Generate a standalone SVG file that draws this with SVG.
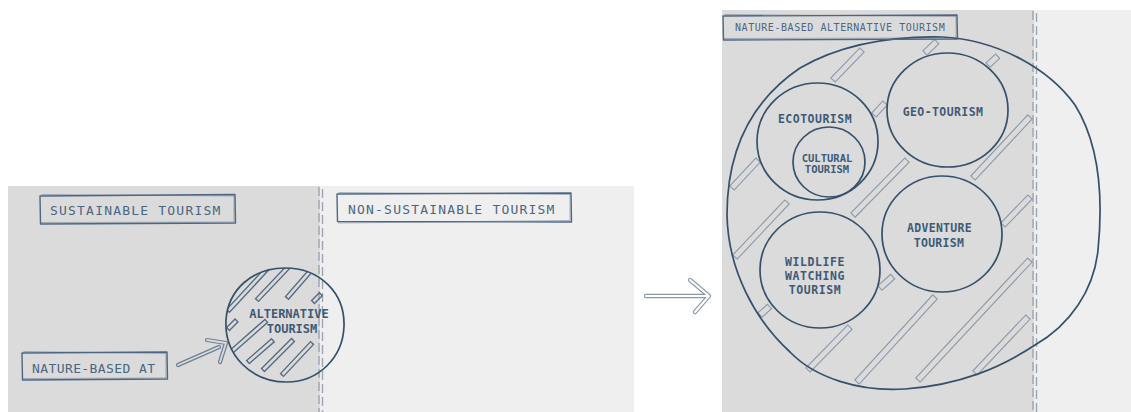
<svg xmlns="http://www.w3.org/2000/svg" width="1131" height="412" viewBox="0 0 1131 412">
  <defs>
    <style>
      .bg-dark { fill: #dbdbdb; }
      .bg-light { fill: #efefef; }
      .divider { stroke: #9da6b0; stroke-width: 1.4; stroke-dasharray: 9 4; fill: none; }
      .box { fill: none; stroke: #4d6782; stroke-width: 1.4; stroke-linejoin: round; }
      .box2 { fill: none; stroke: #4d6782; stroke-width: 0.8; opacity: 0.55; }
      .ring { fill: none; stroke: #34506b; stroke-width: 1.7; }
      .label { font-family: "DejaVu Sans Mono", "Liberation Mono", monospace; fill: #4c6680; }
      .bold { font-family: "DejaVu Sans Mono", "Liberation Mono", monospace; font-weight: bold; fill: #3e5a76; text-anchor: middle; }
      .strip { fill: none; stroke: #8b99a9; stroke-width: 1.1; }
      .hatch { fill: none; stroke: #566b84; stroke-width: 1.4; }
    </style>
    <clipPath id="alt-clip">
      <path d="M226,320 C228,290 252,268 285,268 C320,268 345,293 344,326 C343,358 318,382 287,382 C252,382 224,356 226,320 Z"/>
    </clipPath>
  </defs>

  <!-- panel backgrounds -->
  <rect class="bg-dark" x="8" y="186" width="312" height="226"/>
  <rect class="bg-light" x="320" y="186" width="314" height="226"/>
  <rect class="bg-dark" x="722" y="10" width="312" height="402"/>
  <rect class="bg-light" x="1034" y="10" width="97" height="402"/>

  <!-- dashed dividers -->
  <g id="dividers">
    <line class="divider" x1="319" y1="187" x2="319" y2="412"/>
    <line class="divider" x1="322.5" y1="189" x2="322.5" y2="412"/>
    <line class="divider" x1="1033" y1="11" x2="1033" y2="412"/>
    <line class="divider" x1="1036.5" y1="13" x2="1036.5" y2="412"/>
  </g>

  <!-- left scene -->
  <g id="sustainable">
    <path class="box" d="M40,196 L235,194.5 L235.5,223 L40.5,224 Z"/>
    <path class="box2" d="M41.5,194.5 L234,196 L234,222 L41,222.5"/>
    <text class="label" x="50" y="215" font-size="13" letter-spacing="1.2">SUSTAINABLE TOURISM</text>
  </g>

  <g id="non-sustainable">
    <path class="box" d="M337,194 L571,193 L571.5,222 L337.5,221.5 Z"/>
    <path class="box2" d="M338.5,192.5 L570,194.5 L570,220.5 L338,223"/>
    <text class="label" x="348" y="214" font-size="13" letter-spacing="1.2">NON-SUSTAINABLE TOURISM</text>
  </g>

  <g id="alternative">
    <g clip-path="url(#alt-clip)">
      <rect class="hatch" x="0" y="-2" width="60" height="4" transform="translate(228,311) rotate(-47.2)"/>
      <rect class="hatch" x="0" y="-2" width="56" height="4" transform="translate(257,300) rotate(-46.5)"/>
      <rect class="hatch" x="0" y="-2" width="42" height="4" transform="translate(287,298) rotate(-49)"/>
      <rect class="hatch" x="0" y="-2" width="11" height="4" transform="translate(313,302) rotate(-45)"/>
      <rect class="hatch" x="0" y="-2" width="12" height="4" transform="translate(228,329) rotate(-45)"/>
      <rect class="hatch" x="0" y="-2" width="47" height="4" transform="translate(231,352) rotate(-41.4)"/>
      <rect class="hatch" x="0" y="-2" width="33" height="4" transform="translate(248,362) rotate(-41)"/>
      <rect class="hatch" x="0" y="-2" width="42.4" height="4" transform="translate(263,370) rotate(-45)"/>
      <rect class="hatch" x="0" y="-2" width="43.9" height="4" transform="translate(282,375) rotate(-46.8)"/>
    </g>
    <path class="ring" d="M226,320 C228,290 252,268 285,268 C320,268 345,293 344,326 C343,358 318,382 287,382 C252,382 224,356 226,320 Z"/>
    <text class="bold" x="289" y="318" font-size="12">ALTERNATIVE</text>
    <text class="bold" x="292" y="333" font-size="12">TOURISM</text>
  </g>

  <g id="nature-based-at">
    <path class="box" d="M22,353 L167,352 L167.5,379 L22.5,380 Z"/>
    <path class="box2" d="M23.5,351.5 L166,353.5 L166,378 L23,378.5"/>
    <text class="label" x="32" y="373" font-size="13" letter-spacing="0.4">NATURE-BASED AT</text>
  </g>

  <!-- connectors -->
  <g id="connectors" fill="none" stroke-linecap="round" stroke-linejoin="round">
    <g id="arrow-to-alternative">
      <path d="M178,365 L219,347 M207,340 L226,343 L220,362" stroke="#6c8096" stroke-width="4.2"/>
      <path d="M178,365 L219,347 M207,340 L226,343 L220,362" stroke="#dbdbdb" stroke-width="1.8"/>
    </g>
    <g id="arrow-to-detail">
      <path d="M646,296 L707,296 M690,280 L709,296 L695,312" stroke="#8b99a9" stroke-width="4.4"/>
      <path d="M646,296 L707,296 M690,280 L709,296 L695,312" stroke="#ffffff" stroke-width="2.2"/>
    </g>
  </g>

  <!-- right scene -->
  <g id="nature-based-alternative">
    <g id="strips">
      <rect class="strip" x="0" y="-3" width="41.7" height="6" transform="translate(833,80) rotate(-46)"/>
      <rect class="strip" x="0" y="-3" width="16.3" height="6" transform="translate(925,53) rotate(-44)"/>
      <rect class="strip" x="0" y="-3" width="13" height="6" transform="translate(988,65) rotate(-42)"/>
      <rect class="strip" x="0" y="-3" width="16.3" height="6" transform="translate(874,115) rotate(-47.5)"/>
      <rect class="strip" x="0" y="-3" width="38.2" height="6" transform="translate(732,188) rotate(-47)"/>
      <rect class="strip" x="0" y="-3" width="83.5" height="6" transform="translate(973,178) rotate(-47)"/>
      <rect class="strip" x="0" y="-3" width="77" height="6" transform="translate(853,215) rotate(-45.5)"/>
      <rect class="strip" x="0" y="-3" width="38.9" height="6" transform="translate(1003,225) rotate(-46)"/>
      <rect class="strip" x="0" y="-3" width="75.7" height="6" transform="translate(735,257) rotate(-46.6)"/>
      <rect class="strip" x="0" y="-3" width="17" height="6" transform="translate(880,288) rotate(-42)"/>
      <rect class="strip" x="0" y="-3" width="12.8" height="6" transform="translate(760,315) rotate(-42)"/>
      <rect class="strip" x="0" y="-3" width="60" height="6" transform="translate(808,370) rotate(-45.7)"/>
      <rect class="strip" x="0" y="-3" width="115.4" height="6" transform="translate(857,382) rotate(-47.5)"/>
      <rect class="strip" x="0" y="-3" width="164" height="6" transform="translate(918,380) rotate(-47)"/>
      <rect class="strip" x="0" y="-3" width="77" height="6" transform="translate(975,373) rotate(-46.6)"/>
    </g>
    <path class="ring" d="M727,215 C727,140 760,95 800,68 C840,45 890,36 942,37 C1000,40 1050,70 1075,105 C1100,145 1103,200 1098,250 C1094,290 1070,325 1035,345 C1000,368 960,385 905,389 C860,392 815,378 790,352 C755,320 728,270 727,215 Z"/>
    <path class="box" d="M723,16 L957,15 L957.5,39 L723.5,40 Z"/>
    <path class="box2" d="M724.5,14.5 L956,16.5 L956,38 L724,38.5"/>
    <text class="label" x="735" y="31" font-size="10" letter-spacing="0.55">NATURE-BASED ALTERNATIVE TOURISM</text>
  </g>

  <g id="ecotourism">
    <ellipse class="ring" cx="817.5" cy="141.5" rx="60.5" ry="58.5"/>
    <text class="bold" x="815" y="123" font-size="11.5" letter-spacing="0.5">ECOTOURISM</text>
  </g>

  <g id="cultural-tourism">
    <ellipse class="ring" cx="829" cy="162" rx="36" ry="35"/>
    <text class="bold" x="827" y="162" font-size="10.5">CULTURAL</text>
    <text class="bold" x="827" y="173" font-size="10.5">TOURISM</text>
  </g>

  <g id="geo-tourism">
    <ellipse class="ring" cx="947.5" cy="110" rx="60.5" ry="57"/>
    <text class="bold" x="943" y="116" font-size="11.5" letter-spacing="0.4">GEO-TOURISM</text>
  </g>

  <g id="adventure-tourism">
    <ellipse class="ring" cx="942" cy="234" rx="60" ry="58"/>
    <text class="bold" x="939.5" y="232" font-size="11.5" letter-spacing="0.3">ADVENTURE</text>
    <text class="bold" x="939" y="247" font-size="11.5" letter-spacing="0.3">TOURISM</text>
  </g>

  <g id="wildlife-watching-tourism">
    <ellipse class="ring" cx="820" cy="270" rx="60" ry="58"/>
    <text class="bold" x="815" y="266" font-size="11.5" letter-spacing="0.6">WILDLIFE</text>
    <text class="bold" x="815" y="280" font-size="11.5" letter-spacing="0.6">WATCHING</text>
    <text class="bold" x="815" y="294" font-size="11.5" letter-spacing="0.6">TOURISM</text>
  </g>
</svg>
